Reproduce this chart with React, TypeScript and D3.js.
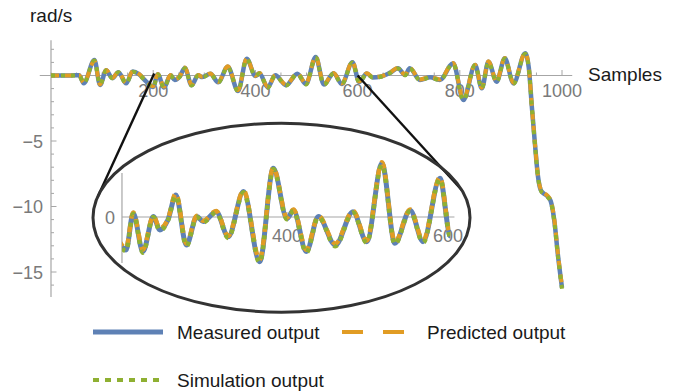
import * as d3 from "d3";

// sample positions (x), values in rad/s (y)
const samples = [0, 20, 40, 55, 64, 85, 96, 108, 120, 132, 147, 160, 172, 186, 200, 209, 221, 234, 242, 252, 262, 275, 288, 296, 312, 327, 346, 366, 383, 400, 408, 424, 439, 460, 482, 499, 518, 534, 553, 569, 590, 603, 618, 630, 644, 663, 679, 693, 702, 722, 742, 761, 787, 807, 830, 843, 856, 872, 888, 905, 928, 935, 941, 947, 953, 958, 964, 971, 978, 985, 992, 1000];

const measured = [0, 0, 0, 0.02, -0.6, 1.18, -0.72, 0.4, -0.2, 0.25, -0.6, 0.3, 0.1, -0.45, -0.87, 0.1, -0.91, 0.01, -0.34, -0.08, 0.58, -0.74, 0.01, -0.12, 0.14, -0.52, 0.67, -1.18, 1.28, -0.04, 0.18, -0.91, 0.01, -0.74, 0.14, -0.65, 1.41, -0.69, 0.18, -0.65, 1.02, -0.5, 0.15, -0.15, -0.1, 0.2, 0.55, 0.04, 0.55, -0.34, -0.14, -0.34, 0.93, -1.87, 0.8, -0.98, 1.05, -0.47, 1.31, -0.6, 1.69, 0.6, -2.4, -5.2, -7.7, -8.7, -9.0, -9.2, -9.6, -11.1, -13.7, -16.2];

const predicted = [0, 0, 0, 0.02, -0.55, 1.12, -0.68, 0.42, -0.18, 0.28, -0.56, 0.32, 0.12, -0.42, -0.82, 0.12, -0.86, 0.03, -0.3, -0.06, 0.62, -0.7, 0.03, -0.1, 0.16, -0.5, 0.7, -1.12, 1.3, -0.02, 0.2, -0.86, 0.03, -0.7, 0.16, -0.62, 1.44, -0.66, 0.2, -0.62, 1.05, -0.46, 0.17, -0.12, -0.08, 0.22, 0.57, 0.06, 0.57, -0.3, -0.12, -0.3, 0.96, -1.82, 0.83, -0.94, 1.08, -0.44, 1.34, -0.56, 1.72, 0.62, -2.35, -5.15, -7.65, -8.65, -8.95, -9.15, -9.55, -11.0, -13.6, -16.1];

const simulation = [0, 0, 0, 0.02, -0.58, 1.15, -0.7, 0.38, -0.22, 0.24, -0.62, 0.28, 0.08, -0.48, -0.9, 0.08, -0.94, 0.0, -0.36, -0.1, 0.56, -0.77, 0.0, -0.14, 0.12, -0.55, 0.65, -1.2, 1.26, -0.06, 0.16, -0.94, 0.0, -0.77, 0.12, -0.68, 1.38, -0.72, 0.16, -0.68, 1.0, -0.53, 0.13, -0.17, -0.12, 0.18, 0.53, 0.02, 0.53, -0.36, -0.16, -0.36, 0.9, -1.9, 0.78, -1.0, 1.02, -0.5, 1.28, -0.63, 1.66, 0.58, -2.45, -5.25, -7.75, -8.75, -9.05, -9.25, -9.65, -11.2, -13.8, -16.3];

const xTicks = [200, 400, 600, 800, 1000];
const yTicks = [-5, -10, -15];
const insetXTicks = [400, 600];
const insetRange = [195, 603];

const colors = { measured: "#5e81b5", predicted: "#e19c24", simulation: "#8fb032" };
const font = "'Liberation Sans', Arial, sans-serif";

export default function App() {
  const x = d3.scaleLinear().domain([0, 1000]).range([51, 562]);
  const y = d3.scaleLinear().domain([0, -15]).range([75.5, 272]);

  const ix = d3.scaleLinear().domain([400, 600]).range([287, 448]);
  const iy = d3.scaleLinear().domain([0, 1]).range([217, 179]);

  const series = [
    { key: "measured", values: measured, color: colors.measured, dash: undefined, width: 4.5 },
    { key: "predicted", values: predicted, color: colors.predicted, dash: "8 6", width: 4 },
    { key: "simulation", values: simulation, color: colors.simulation, dash: "4 6", width: 4 },
  ];

  const mainLine = (vals: number[]) =>
    d3.line<number>().x((_, i) => x(samples[i])).y(d => y(d)).curve(d3.curveMonotoneX)(vals) || "";
  const insetLine = (vals: number[]) =>
    d3.line<number>().x((_, i) => ix(samples[i])).y(d => iy(d)).curve(d3.curveMonotoneX)(vals) || "";

  const xMinor = d3.range(0, 1001, 50).filter(v => !xTicks.includes(v));
  const yMinor = d3.range(2, -17, -1).filter(v => !yTicks.includes(v) && v !== 0);

  const axisColor = "#a6a6a6";
  const labelColor = "#7a7a7a";

  // ellipse of the zoomed view
  const ex = 281.5, ey = 217.7, erx = 188.5, ery = 94.5;

  return (
    <svg width={678} height={391} style={{ position: "absolute", left: 0, top: 0, background: "#fff" }} fontFamily={font}>
      <defs>
        <clipPath id="insetClip">
          <rect x={ix(insetRange[0])} y={120} width={ix(insetRange[1]) - ix(insetRange[0])} height={190} />
        </clipPath>
      </defs>

      {/* main axes */}
      <line x1={x(-22)} x2={x(1020)} y1={y(0)} y2={y(0)} stroke={axisColor} strokeWidth={1.2} />
      <line x1={x(0)} x2={x(0)} y1={y(2.7)} y2={y(-16.9)} stroke={axisColor} strokeWidth={1.2} />
      {xMinor.map(v => (
        <line key={"xm" + v} x1={x(v)} x2={x(v)} y1={y(0)} y2={y(0) - 3} stroke={axisColor} />
      ))}
      {xTicks.map(v => (
        <g key={"xt" + v}>
          <line x1={x(v)} x2={x(v)} y1={y(0)} y2={y(0) - 5.5} stroke={axisColor} />
          <text x={x(v)} y={y(0) + 21.5} textAnchor="middle" fontSize={18} fill={labelColor}>{v}</text>
        </g>
      ))}
      {yMinor.map(v => (
        <line key={"ym" + v} x1={x(0)} x2={x(0) + 3} y1={y(v)} y2={y(v)} stroke={axisColor} />
      ))}
      {yTicks.map(v => (
        <g key={"yt" + v}>
          <line x1={x(0)} x2={x(0) + 5.5} y1={y(v)} y2={y(v)} stroke={axisColor} />
          <text x={x(0) - 8} y={y(v) + 6.5} textAnchor="end" fontSize={18} fill={labelColor}>{"\u2212" + Math.abs(v)}</text>
        </g>
      ))}
      <text x={30} y={22} fontSize={19} fill="#1a1a1a">rad/s</text>
      <text x={588} y={81} fontSize={19} fill="#1a1a1a">Samples</text>

      {/* main series */}
      {series.map(s => (
        <path key={s.key} d={mainLine(s.values)} fill="none" stroke={s.color} strokeWidth={s.width}
          strokeDasharray={s.dash} strokeLinejoin="round" />
      ))}

      {/* connectors to zoom ellipse */}
      <line x1={x(200) + 1} y1={y(0) - 2} x2={97.6} y2={197} stroke="#111" strokeWidth={2.4} />
      <line x1={x(600)} y1={y(0)} x2={461.7} y2={190} stroke="#111" strokeWidth={2.4} />

      {/* zoomed inset */}
      <ellipse cx={ex} cy={ey} rx={erx} ry={ery} fill="#fff" fillOpacity={0} stroke="#333" strokeWidth={3} />
      <line x1={ix(insetRange[0])} x2={ix(insetRange[0])} y1={173} y2={263} stroke={axisColor} strokeWidth={1.2} />
      <line x1={ix(insetRange[0])} x2={ix(608)} y1={iy(0)} y2={iy(0)} stroke={axisColor} strokeWidth={1.2} />
      {insetXTicks.map(v => (
        <g key={"it" + v}>
          <line x1={ix(v)} x2={ix(v)} y1={iy(0)} y2={iy(0) - 5} stroke={axisColor} />
          <text x={ix(v)} y={iy(0) + 25} textAnchor="middle" fontSize={18} fill={labelColor}>{v}</text>
        </g>
      ))}
      <text x={ix(insetRange[0]) - 7} y={iy(0) + 6.5} textAnchor="end" fontSize={18} fill={labelColor}>0</text>
      <g clipPath="url(#insetClip)">
        {series.map(s => (
          <path key={"i" + s.key} d={insetLine(s.values)} fill="none" stroke={s.color} strokeWidth={s.width + 0.5}
            strokeDasharray={s.dash} strokeLinejoin="round" />
        ))}
      </g>

      {/* legend */}
      <line x1={93} x2={163} y1={332} y2={332} stroke={colors.measured} strokeWidth={5} />
      <text x={177} y={339} fontSize={19} fill="#1a1a1a">Measured output</text>
      <line x1={342} x2={404} y1={332} y2={332} stroke={colors.predicted} strokeWidth={4} strokeDasharray="21 20" />
      <text x={427} y={339} fontSize={19} fill="#1a1a1a">Predicted output</text>
      <line x1={93} x2={163} y1={380} y2={380} stroke={colors.simulation} strokeWidth={4} strokeDasharray="6 6" />
      <text x={177} y={387} fontSize={19} fill="#1a1a1a">Simulation output</text>
    </svg>
  );
}
